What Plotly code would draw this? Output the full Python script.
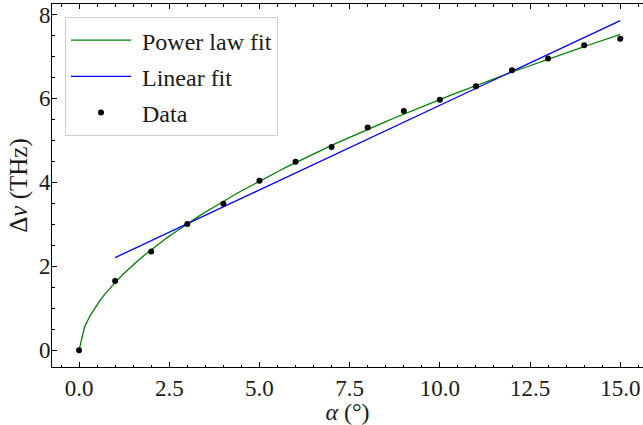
import numpy as np
import plotly.graph_objects as go

# Measured frequency splitting versus angle
alpha_deg = [0, 1, 2, 3, 4, 5, 6, 7, 8, 9, 10, 11, 12, 13, 14, 15]
delta_nu_thz = [0.00, 1.65, 2.35, 3.01, 3.49, 4.04, 4.49, 4.84, 5.31,
                5.70, 5.97, 6.29, 6.67, 6.95, 7.27, 7.42]

x = np.array(alpha_deg, dtype=float)
y = np.array(delta_nu_thz, dtype=float)
pos = x > 0

# Power law fit  y = a * x**b  (least squares, Gauss-Newton from a log-log start)
b, loga = np.polyfit(np.log(x[pos]), np.log(y[pos]), 1)
a = np.exp(loga)
for _ in range(50):
    f = a * x[pos] ** b
    J = np.column_stack([x[pos] ** b, a * x[pos] ** b * np.log(x[pos])])
    r = y[pos] - f
    step, *_ = np.linalg.lstsq(J, r, rcond=None)
    a += step[0]
    b += step[1]
x_pow = np.linspace(0, 15, 100)
y_pow = a * x_pow ** b

# Linear fit over the non-zero angles
m, c = np.polyfit(x[pos], y[pos], 1)
x_lin = np.linspace(x[pos].min(), x[pos].max(), 100)
y_lin = m * x_lin + c

FONT = "'Liberation Serif', 'DejaVu Serif', serif"
INK = "#1a1a1a"
NB = "\u00a0"

fig = go.Figure()
fig.add_trace(go.Scatter(x=x_pow, y=y_pow, mode="lines", name=NB + "Power law fit",
                         line=dict(color="green", width=1.3), legendgroup="a"))
fig.add_trace(go.Scatter(x=x_lin, y=y_lin, mode="lines", name=NB + "Linear fit",
                         line=dict(color="blue", width=1.3), legendgroup="b"))
fig.add_trace(go.Scatter(x=x, y=y, mode="markers", name=NB + "Data",
                         marker=dict(color="black", size=6), legendgroup="c"))

axis_common = dict(
    showline=True, linecolor="black", linewidth=1,
    ticks="inside", ticklen=5, tickwidth=1, tickcolor="black",
    showgrid=False, zeroline=False,
    tickfont=dict(family=FONT, size=23, color=INK),
)

fig.update_xaxes(
    range=[-0.75, 15.63], tickmode="array",
    tickvals=[0, 2.5, 5, 7.5, 10, 12.5, 15],
    ticktext=["0.0", "2.5", "5.0", "7.5", "10.0", "12.5", "15.0"],
    mirror="ticks",
    minor=dict(ticks="inside", dtick=0.5, tick0=0, ticklen=2.5, tickcolor="black"),
    title=dict(text="<i>α</i> (°)", font=dict(family=FONT, size=24, color=INK), standoff=3),
    **axis_common,
)
fig.update_yaxes(
    range=[-0.4, 8.25], tickmode="array", tickvals=[0, 2, 4, 6, 8],
    mirror=False, ticklabelstandoff=-4,
    minor=dict(ticks="inside", dtick=0.5, tick0=0, ticklen=2.5, tickcolor="black"),
    title=dict(text="Δ<i>ν</i> (THz)", font=dict(family=FONT, size=25, color=INK), standoff=4),
    **axis_common,
)

fig.update_layout(
    width=643, height=425,
    margin=dict(l=52, r=0, t=4, b=58),
    plot_bgcolor="white", paper_bgcolor="white",
    font=dict(family=FONT, color=INK),
    showlegend=True,
    legend=dict(
        x=0.022, y=0.964, xanchor="left", yanchor="top",
        bgcolor="rgba(255,255,255,0.8)", bordercolor="#d0d0d0", borderwidth=1,
        font=dict(family=FONT, size=24, color=INK),
        traceorder="grouped", tracegroupgap=2, itemwidth=60,
    ),
)

fig.write_html("out.html")
